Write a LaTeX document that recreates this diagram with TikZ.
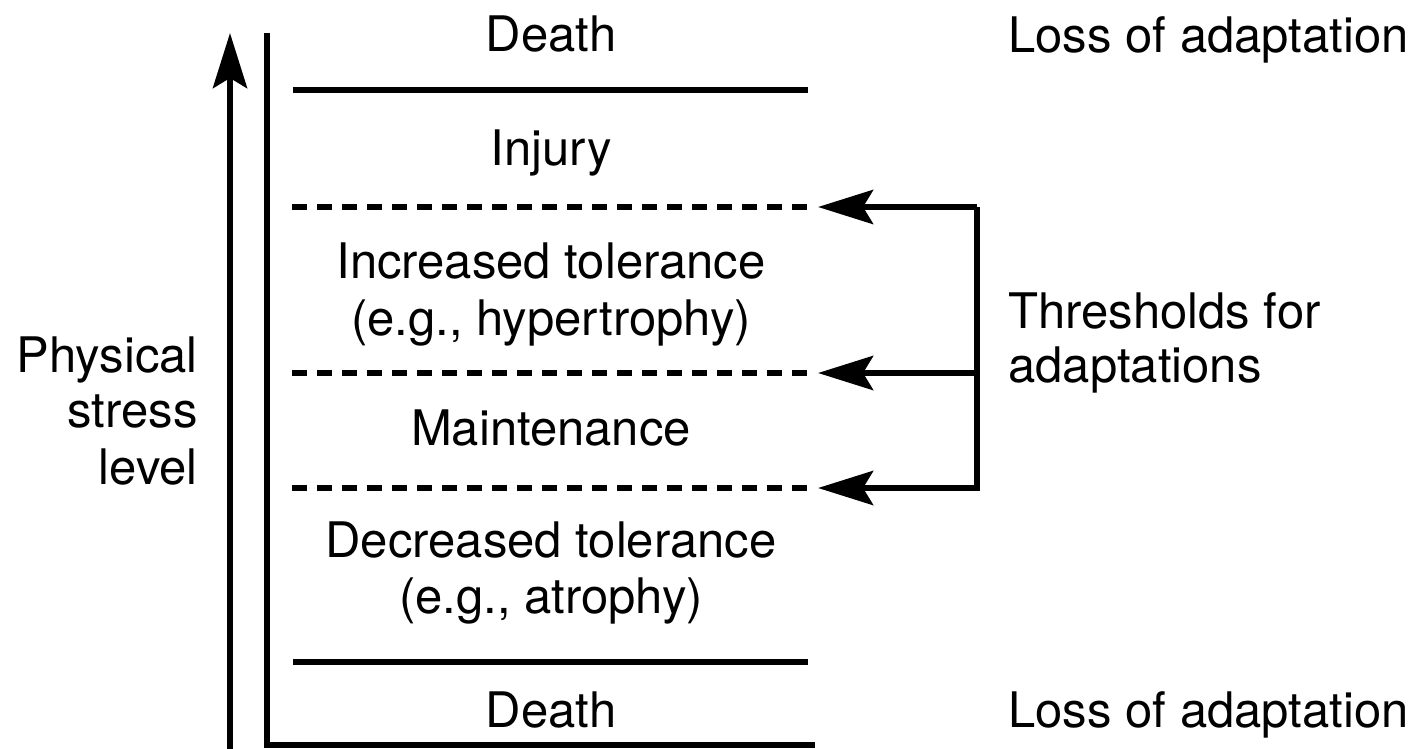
\documentclass[tikz,border=0pt]{standalone}
\usepackage{fontspec}
\setmainfont{TeX Gyre Heros}
\usetikzlibrary{arrows.meta}
\begin{document}
\begin{tikzpicture}[x=0.5pt,y=-0.5pt,
  rule/.style={line width=3.25pt},
  dashrule/.style={line width=3.1pt,dash pattern=on 7.5pt off 5pt},
  bigtip/.style={-{Stealth[length=27.5pt,width=17pt,inset=5pt]}},
  lbl/.style={anchor=base,inner sep=0pt,font=\fontsize{24.5}{28}\selectfont},
  lblL/.style={lbl,anchor=base west},
  lblR/.style={lbl,anchor=base east}]
\useasboundingbox (0,0) rectangle (1424,749);

% stress axis and frame
\coordinate (arrowfoot) at (230,749);
\coordinate (arrowtop) at (230,33);
\draw[rule,bigtip] (arrowfoot) -- (arrowtop);
\coordinate (frametop) at (267,33);
\coordinate (framecorner) at (267,745);
\coordinate (frameend) at (815,745);
\draw[rule,line join=miter] (frametop) -- (framecorner) -- (frameend);

% zone boundaries
\coordinate (s1a) at (293,90);  \coordinate (s1b) at (808,90);
\coordinate (s2a) at (293,662); \coordinate (s2b) at (808,662);
\draw[rule] (s1a) -- (s1b);
\draw[rule] (s2a) -- (s2b);
\coordinate (d1a) at (292,207); \coordinate (d1b) at (814,207);
\coordinate (d2a) at (292,373); \coordinate (d2b) at (814,373);
\coordinate (d3a) at (292,488); \coordinate (d3b) at (814,488);
\draw[dashrule] (d1a) -- (d1b);
\draw[dashrule] (d2a) -- (d2b);
\draw[dashrule] (d3a) -- (d3b);

% threshold bracket
\coordinate (t1) at (818,207); \coordinate (b1) at (977,207);
\coordinate (t2) at (818,373); \coordinate (b2) at (977,373);
\coordinate (t3) at (818,488); \coordinate (b3) at (977,488);
\draw[rule,line join=miter,bigtip] (b1) -- (b3) -- (t3);
\draw[rule,bigtip] (b1) -- (t1);
\draw[rule,bigtip] (b2) -- (t2);

% zone labels
\node[lbl] (deathtop) at (551,52) {Death};
\node[lbl] (injury) at (551,165) {Injury};
\node[lbl] (inc1) at (551,278) {Increased tolerance};
\node[lbl] (inc2) at (551,335) {(e.g., hypertrophy)};
\node[lbl] (maint) at (551,445) {Maintenance};
\node[lbl] (dec1) at (551,557) {Decreased tolerance};
\node[lbl] (dec2) at (551,613) {(e.g., atrophy)};
\node[lbl] (deathbot) at (551,727) {Death};

% right-hand labels
\node[lblL] (losstop) at (1008,53) {Loss of adaptation};
\node[lblL] (lossbot) at (1008,727) {Loss of adaptation};
\node[lblL] (thr1) at (1008,328) {Thresholds for};
\node[lblL] (thr2) at (1008,382) {adaptations};

% axis label
\node[lblR] (ax1) at (198,372) {Physical};
\node[lblR] (ax2) at (198,427) {stress};
\node[lblR] (ax3) at (198,484) {level};
\end{tikzpicture}
\end{document}
